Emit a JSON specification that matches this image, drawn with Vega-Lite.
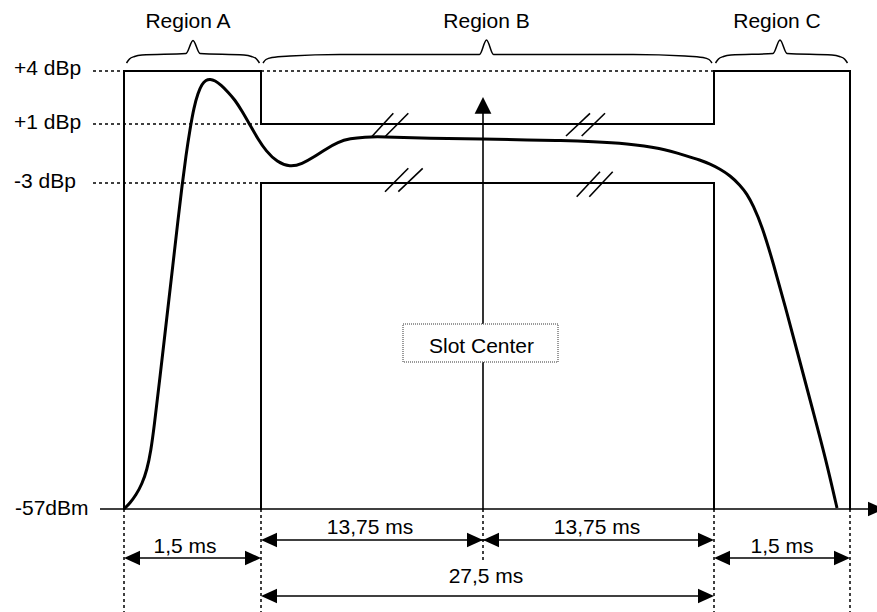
{
  "$schema": "https://vega.github.io/schema/vega-lite/v6.json",
  "width": 877,
  "height": 612,
  "autosize": {"type": "none"},
  "padding": 0,
  "background": "white",
  "config": {"view": {"stroke": null}},
  "datasets": {
    "dotted": [
      {"x": 93, "y": 71, "x2": 124, "y2": 71},
      {"x": 261, "y": 71, "x2": 714, "y2": 71},
      {"x": 93, "y": 124, "x2": 261, "y2": 124},
      {"x": 93, "y": 183, "x2": 261, "y2": 183},
      {"x": 124, "y": 509, "x2": 124, "y2": 612},
      {"x": 261, "y": 509, "x2": 261, "y2": 612},
      {"x": 714, "y": 509, "x2": 714, "y2": 612},
      {"x": 850, "y": 509, "x2": 850, "y2": 612},
      {"x": 483, "y": 509, "x2": 483, "y2": 560}
    ],
    "mask": [
      {"x": 124, "y": 71, "x2": 261, "y2": 71},
      {"x": 124, "y": 71, "x2": 124, "y2": 509},
      {"x": 261, "y": 71, "x2": 261, "y2": 124},
      {"x": 261, "y": 124, "x2": 714, "y2": 124},
      {"x": 714, "y": 124, "x2": 714, "y2": 71},
      {"x": 714, "y": 71, "x2": 850, "y2": 71},
      {"x": 850, "y": 71, "x2": 850, "y2": 509},
      {"x": 261, "y": 183, "x2": 261, "y2": 509},
      {"x": 261, "y": 183, "x2": 714, "y2": 183},
      {"x": 714, "y": 183, "x2": 714, "y2": 509}
    ],
    "thin": [
      {"x": 100, "y": 509, "x2": 872, "y2": 509},
      {"x": 483, "y": 509, "x2": 483, "y2": 110},
      {"x": 130, "y": 558, "x2": 255, "y2": 558},
      {"x": 720, "y": 558, "x2": 844, "y2": 558},
      {"x": 267, "y": 540, "x2": 708, "y2": 540},
      {"x": 267, "y": 596, "x2": 708, "y2": 596},
      {"x": 371.7, "y": 136.7, "x2": 393.3, "y2": 113.3},
      {"x": 385, "y": 136.7, "x2": 408.3, "y2": 113.3},
      {"x": 385, "y": 191.7, "x2": 408.3, "y2": 168.3},
      {"x": 398.3, "y": 191.7, "x2": 422.7, "y2": 168.3},
      {"x": 566, "y": 136, "x2": 590, "y2": 113.3},
      {"x": 581.7, "y": 136, "x2": 605, "y2": 113.3},
      {"x": 576.7, "y": 196.7, "x2": 600, "y2": 171.7},
      {"x": 589.3, "y": 196.7, "x2": 612.7, "y2": 171.7}
    ],
    "braces": [
      {"g": "A", "x": 126.5, "y": 63}, {"g": "A", "x": 129.5, "y": 59}, {"g": "A", "x": 134.5, "y": 56.5}, {"g": "A", "x": 142, "y": 55}, {"g": "A", "x": 186, "y": 53.5}, {"g": "A", "x": 193, "y": 40.5}, {"g": "A", "x": 200, "y": 53.5}, {"g": "A", "x": 244, "y": 55}, {"g": "A", "x": 251.5, "y": 56.5}, {"g": "A", "x": 256.5, "y": 59}, {"g": "A", "x": 259.5, "y": 63},
      {"g": "B", "x": 263, "y": 63}, {"g": "B", "x": 266, "y": 59.5}, {"g": "B", "x": 272, "y": 57.5}, {"g": "B", "x": 290, "y": 56}, {"g": "B", "x": 340, "y": 54.5}, {"g": "B", "x": 479.5, "y": 54.5}, {"g": "B", "x": 486.5, "y": 40}, {"g": "B", "x": 493.5, "y": 54.5}, {"g": "B", "x": 633, "y": 54.5}, {"g": "B", "x": 685, "y": 56}, {"g": "B", "x": 703, "y": 57.5}, {"g": "B", "x": 709, "y": 59.5}, {"g": "B", "x": 712, "y": 63},
      {"g": "C", "x": 715.5, "y": 63}, {"g": "C", "x": 718.5, "y": 59}, {"g": "C", "x": 723.5, "y": 56.5}, {"g": "C", "x": 731, "y": 55}, {"g": "C", "x": 773, "y": 53.5}, {"g": "C", "x": 780, "y": 40}, {"g": "C", "x": 787, "y": 53.5}, {"g": "C", "x": 832, "y": 55}, {"g": "C", "x": 839.5, "y": 56.5}, {"g": "C", "x": 844.5, "y": 59}, {"g": "C", "x": 847.5, "y": 63}
    ],
    "box": [{"x": 403, "y": 324, "x2": 558, "y2": 362}],
    "curve": [
      {"x": 124, "y": 509}, {"x": 130, "y": 503}, {"x": 136, "y": 495}, {"x": 142, "y": 484}, {"x": 147, "y": 470},
      {"x": 151, "y": 450}, {"x": 154, "y": 428}, {"x": 160, "y": 377}, {"x": 167, "y": 316}, {"x": 173, "y": 264},
      {"x": 178, "y": 220}, {"x": 182, "y": 186}, {"x": 186, "y": 155}, {"x": 190, "y": 129}, {"x": 194, "y": 107},
      {"x": 198, "y": 93}, {"x": 202, "y": 84}, {"x": 206, "y": 80}, {"x": 210, "y": 79}, {"x": 215, "y": 80.5},
      {"x": 221, "y": 85}, {"x": 228, "y": 92}, {"x": 235, "y": 100}, {"x": 242, "y": 111}, {"x": 250, "y": 125},
      {"x": 258, "y": 139}, {"x": 266, "y": 151}, {"x": 277, "y": 162}, {"x": 290, "y": 167}, {"x": 302, "y": 164},
      {"x": 314, "y": 157}, {"x": 326, "y": 149}, {"x": 338, "y": 142}, {"x": 350, "y": 138.5}, {"x": 365, "y": 137},
      {"x": 380, "y": 136.5}, {"x": 430, "y": 138.5}, {"x": 483, "y": 139}, {"x": 530, "y": 140}, {"x": 560, "y": 140.5},
      {"x": 593, "y": 141.5}, {"x": 627, "y": 143.5}, {"x": 660, "y": 148}, {"x": 687, "y": 156}, {"x": 700, "y": 160},
      {"x": 710, "y": 164}, {"x": 720, "y": 169}, {"x": 730, "y": 175.5}, {"x": 740, "y": 185}, {"x": 747, "y": 194},
      {"x": 753, "y": 205}, {"x": 762, "y": 226}, {"x": 773, "y": 262}, {"x": 787, "y": 313}, {"x": 800, "y": 362},
      {"x": 813, "y": 411}, {"x": 826, "y": 460}, {"x": 837, "y": 508}
    ],
    "arrows": [
      {"dir": "up", "x": 483, "y": 97},
      {"dir": "right", "x": 884, "y": 509},
      {"dir": "left", "x": 124, "y": 558}, {"dir": "right", "x": 261, "y": 558},
      {"dir": "left", "x": 714, "y": 558}, {"dir": "right", "x": 850, "y": 558},
      {"dir": "left", "x": 261, "y": 540}, {"dir": "right", "x": 483, "y": 540},
      {"dir": "left", "x": 483, "y": 540}, {"dir": "right", "x": 714, "y": 540},
      {"dir": "left", "x": 261, "y": 596}, {"dir": "right", "x": 714, "y": 596}
    ],
    "centerText": [
      {"label": "Region A", "x": 188, "y": 28},
      {"label": "Region B", "x": 486.5, "y": 28},
      {"label": "Region C", "x": 777, "y": 28},
      {"label": "Slot Center", "x": 481.5, "y": 352.5},
      {"label": "1,5 ms", "x": 185, "y": 553},
      {"label": "1,5 ms", "x": 782, "y": 553},
      {"label": "13,75 ms", "x": 370, "y": 534},
      {"label": "13,75 ms", "x": 597, "y": 534},
      {"label": "27,5 ms", "x": 486, "y": 583}
    ],
    "leftText": [
      {"label": "+4 dBp", "x": 14, "y": 74.5},
      {"label": "+1 dBp", "x": 14, "y": 128.5},
      {"label": "-3 dBp", "x": 14, "y": 188},
      {"label": "-57dBm", "x": 15, "y": 515}
    ]
  },
  "layer": [
    {
      "data": {"name": "dotted"},
      "mark": {"type": "rule", "color": "black", "strokeWidth": 1.5, "strokeDash": [3, 3]},
      "encoding": {
        "x": {"field": "x", "type": "quantitative", "scale": {"domain": [0, 877], "nice": false, "zero": false}, "axis": null},
        "y": {"field": "y", "type": "quantitative", "scale": {"domain": [0, 612], "reverse": true, "nice": false, "zero": false}, "axis": null},
        "x2": {"field": "x2"},
        "y2": {"field": "y2"}
      }
    },
    {
      "data": {"name": "thin"},
      "mark": {"type": "rule", "color": "black", "strokeWidth": 1.6},
      "encoding": {
        "x": {"field": "x", "type": "quantitative", "scale": {"domain": [0, 877], "nice": false, "zero": false}, "axis": null},
        "y": {"field": "y", "type": "quantitative", "scale": {"domain": [0, 612], "reverse": true, "nice": false, "zero": false}, "axis": null},
        "x2": {"field": "x2"},
        "y2": {"field": "y2"}
      }
    },
    {
      "data": {"name": "mask"},
      "mark": {"type": "rule", "color": "black", "strokeWidth": 2, "strokeCap": "square"},
      "encoding": {
        "x": {"field": "x", "type": "quantitative", "scale": {"domain": [0, 877], "nice": false, "zero": false}, "axis": null},
        "y": {"field": "y", "type": "quantitative", "scale": {"domain": [0, 612], "reverse": true, "nice": false, "zero": false}, "axis": null},
        "x2": {"field": "x2"},
        "y2": {"field": "y2"}
      }
    },
    {
      "data": {"name": "braces"},
      "mark": {"type": "line", "color": "black", "strokeWidth": 1.5, "interpolate": "monotone"},
      "encoding": {
        "x": {"field": "x", "type": "quantitative", "scale": {"domain": [0, 877], "nice": false, "zero": false}, "axis": null},
        "y": {"field": "y", "type": "quantitative", "scale": {"domain": [0, 612], "reverse": true, "nice": false, "zero": false}, "axis": null},
        "detail": {"field": "g", "type": "nominal"}
      }
    },
    {
      "data": {"name": "box"},
      "mark": {"type": "rect", "fill": "white", "stroke": "#7a7a7a", "strokeWidth": 1.5, "strokeDash": [1, 1]},
      "encoding": {
        "x": {"field": "x", "type": "quantitative", "scale": {"domain": [0, 877], "nice": false, "zero": false}, "axis": null},
        "y": {"field": "y", "type": "quantitative", "scale": {"domain": [0, 612], "reverse": true, "nice": false, "zero": false}, "axis": null},
        "x2": {"field": "x2"},
        "y2": {"field": "y2"}
      }
    },
    {
      "data": {"name": "curve"},
      "mark": {"type": "line", "color": "black", "strokeWidth": 3, "interpolate": "basis"},
      "encoding": {
        "x": {"field": "x", "type": "quantitative", "scale": {"domain": [0, 877], "nice": false, "zero": false}, "axis": null},
        "y": {"field": "y", "type": "quantitative", "scale": {"domain": [0, 612], "reverse": true, "nice": false, "zero": false}, "axis": null}
      }
    },
    {
      "data": {"name": "arrows"},
      "mark": {"type": "point", "filled": true, "color": "black", "opacity": 1, "size": 256, "strokeWidth": 0},
      "encoding": {
        "x": {"field": "x", "type": "quantitative", "scale": {"domain": [0, 877], "nice": false, "zero": false}, "axis": null},
        "y": {"field": "y", "type": "quantitative", "scale": {"domain": [0, 612], "reverse": true, "nice": false, "zero": false}, "axis": null},
        "shape": {
          "field": "dir", "type": "nominal", "legend": null,
          "scale": {
            "domain": ["left", "right", "up"],
            "range": ["M0,0L2,-0.9L2,0.9Z", "M0,0L-2,-0.9L-2,0.9Z", "M0,0L-1.05,2.1L1.05,2.1Z"]
          }
        }
      }
    },
    {
      "data": {"name": "centerText"},
      "mark": {"type": "text", "font": "Liberation Sans", "fontSize": 21, "color": "black", "align": "center", "baseline": "alphabetic"},
      "encoding": {
        "x": {"field": "x", "type": "quantitative", "scale": {"domain": [0, 877], "nice": false, "zero": false}, "axis": null},
        "y": {"field": "y", "type": "quantitative", "scale": {"domain": [0, 612], "reverse": true, "nice": false, "zero": false}, "axis": null},
        "text": {"field": "label", "type": "nominal"}
      }
    },
    {
      "data": {"name": "leftText"},
      "mark": {"type": "text", "font": "Liberation Sans", "fontSize": 21, "color": "black", "align": "left", "baseline": "alphabetic"},
      "encoding": {
        "x": {"field": "x", "type": "quantitative", "scale": {"domain": [0, 877], "nice": false, "zero": false}, "axis": null},
        "y": {"field": "y", "type": "quantitative", "scale": {"domain": [0, 612], "reverse": true, "nice": false, "zero": false}, "axis": null},
        "text": {"field": "label", "type": "nominal"}
      }
    }
  ]
}
